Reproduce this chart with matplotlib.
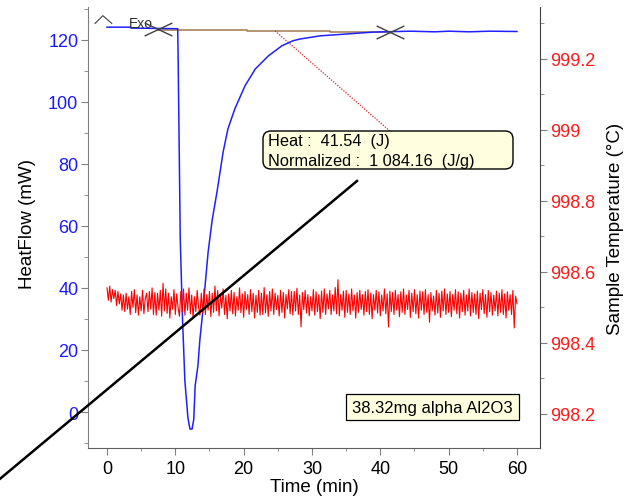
import numpy as np
import matplotlib
matplotlib.use('Agg')
import matplotlib.pyplot as plt
from matplotlib.path import Path
from matplotlib.patches import FancyBboxPatch, Rectangle
from matplotlib.lines import Line2D
from matplotlib.transforms import IdentityTransform
from matplotlib.ticker import MultipleLocator, FuncFormatter

plt.rcParams['font.family'] = ['Liberation Sans', 'DejaVu Sans']

# ---------------- data ----------------
hf_time = [0, 3.4, 3.5, 10.35, 10.42, 10.72, 11.05, 11.4, 11.85, 12.15,
           12.45, 12.7, 12.9, 13.3, 13.6, 14.05, 14.35, 14.8, 15.4, 16.1, 17.0, 17.7,
           18.7, 20.2, 21.7, 23.6, 25.6, 27.2, 28.3, 31.2, 35.1, 38.9, 44.4, 48.0,
           50.0, 53.0, 56.0, 60.0]
heatflow = [124.1, 124.1, 123.8, 123.6, 113.0, 56.0, 30.0, 10.0, -2.0, -5.5,
            -5.5, -2.3, 8.4, 14.8, 23.5, 33.0, 40.6, 51.6, 62.0, 71.0, 83.9, 91.3,
            97.7, 105.2, 110.6, 114.8, 118.1, 119.7, 120.3, 121.3, 121.9, 122.5, 122.8, 122.6,
            122.8, 122.6, 122.8, 122.7]

baseline_time = [7.45, 20.5, 20.5, 32.6, 32.6, 41.4]
baseline_hf = [123.3, 123.3, 123.0, 123.0, 122.7, 122.7]

limit_time = [7.45, 41.4]
limit_hf = [123.4, 122.7]

temp_dt = 0.2
temp_c = [
    998.555, 998.520, 998.560, 998.515, 998.550, 998.525, 998.548, 998.505, 998.545, 998.510, 998.538, 998.492,
    998.535, 998.488, 998.540, 998.495, 998.530, 998.480, 998.545, 998.500, 998.550, 998.485, 998.535, 998.478,
    998.530, 998.490, 998.548, 998.482, 998.525, 998.540, 998.488, 998.545, 998.495, 998.555, 998.480, 998.542,
    998.478, 998.540, 998.492, 998.548, 998.475, 998.568, 998.490, 998.552, 998.483, 998.540, 998.470, 998.530,
    998.495, 998.550, 998.480, 998.538, 998.500, 998.475, 998.545, 998.488, 998.552, 998.478, 998.540, 998.492,
    998.555, 998.482, 998.535, 998.470, 998.530, 998.488, 998.548, 998.500, 998.478, 998.540, 998.485, 998.552,
    998.480, 998.536, 998.492, 998.545, 998.474, 998.540, 998.486, 998.560, 998.490, 998.548, 998.476, 998.538,
    998.498, 998.552, 998.480, 998.534, 998.468, 998.538, 998.490, 998.548, 998.482, 998.542, 998.476, 998.530,
    998.492, 998.555, 998.485, 998.538, 998.472, 998.545, 998.494, 998.536, 998.480, 998.550, 998.488, 998.540,
    998.470, 998.534, 998.486, 998.548, 998.478, 998.540, 998.480, 998.556, 998.485, 998.536, 998.475, 998.545,
    998.490, 998.552, 998.480, 998.540, 998.494, 998.534, 998.476, 998.548, 998.486, 998.542, 998.470, 998.536,
    998.496, 998.550, 998.482, 998.545, 998.478, 998.545, 998.490, 998.554, 998.480, 998.535, 998.445, 998.542,
    998.494, 998.548, 998.484, 998.536, 998.476, 998.530, 998.490, 998.550, 998.478, 998.544, 998.488, 998.536,
    998.468, 998.546, 998.486, 998.552, 998.480, 998.538, 998.496, 998.548, 998.480, 998.535, 998.490, 998.556,
    998.482, 998.578, 998.476, 998.536, 998.492, 998.546, 998.472, 998.548, 998.486, 998.538, 998.480, 998.552,
    998.490, 998.535, 998.470, 998.542, 998.486, 998.548, 998.494, 998.536, 998.478, 998.545, 998.488, 998.550,
    998.480, 998.540, 998.468, 998.536, 998.492, 998.548, 998.484, 998.544, 998.476, 998.535, 998.490, 998.552,
    998.482, 998.538, 998.445, 998.546, 998.488, 998.542, 998.480, 998.548, 998.492, 998.536, 998.474, 998.544,
    998.486, 998.552, 998.480, 998.535, 998.494, 998.548, 998.472, 998.540, 998.488, 998.550, 998.482, 998.536,
    998.470, 998.546, 998.492, 998.544, 998.480, 998.550, 998.486, 998.536, 998.458, 998.542, 998.490, 998.532,
    998.478, 998.548, 998.484, 998.540, 998.472, 998.546, 998.490, 998.552, 998.480, 998.538, 998.486, 998.545,
    998.474, 998.536, 998.492, 998.550, 998.482, 998.544, 998.470, 998.540, 998.488, 998.548, 998.478, 998.535,
    998.490, 998.552, 998.476, 998.542, 998.486, 998.538, 998.480, 998.546, 998.468, 998.540, 998.494, 998.550,
    998.482, 998.536, 998.472, 998.548, 998.488, 998.542, 998.478, 998.535, 998.490, 998.546, 998.476, 998.540,
    998.486, 998.550, 998.480, 998.538, 998.470, 998.544, 998.492, 998.536, 998.480, 998.548, 998.442, 998.532,
    998.510,
]
temp_time = np.arange(len(temp_c)) * temp_dt

leader_time = [24.6, 41.4]
leader_hf = [122.9, 90.6]

heat_text = 'Heat :  41.54  (J)'
norm_text = 'Normalized :  1 084.16  (J/g)'
sample_text = '38.32mg alpha Al2O3'

# ---------------- figure ----------------
W, H = 629, 502
fig = plt.figure(figsize=(W / 100, H / 100), dpi=100)
ax = fig.add_axes([88 / W, 1 - 449 / H, (540 - 88) / W, (449 - 8) / H])
ax2 = ax.twinx()

ax.set_xlim(-2.78, 63.37)
ax.set_ylim(-11.6, 130.6)
ax2.set_ylim(998.104, 999.346)

# spines
for a in (ax, ax2):
    a.spines['top'].set_visible(False)
ax.spines['right'].set_visible(False)
ax2.spines['left'].set_visible(False)
ax2.spines['bottom'].set_visible(False)
ax.spines['left'].set_color('#808080')
ax.spines['bottom'].set_color('#606060')
ax2.spines['right'].set_color('#404040')

# ticks
ax.xaxis.set_major_locator(MultipleLocator(10))
ax.xaxis.set_minor_locator(MultipleLocator(5))
ax.yaxis.set_major_locator(MultipleLocator(20))
ax.yaxis.set_minor_locator(MultipleLocator(10))
ax2.yaxis.set_major_locator(MultipleLocator(0.2))
ax2.yaxis.set_minor_locator(MultipleLocator(0.1))
ax2.yaxis.set_major_formatter(FuncFormatter(lambda v, p: f'{round(v, 1):g}'))

ax.tick_params(axis='x', which='major', direction='out', length=5, color='#808080',
               labelsize=13, labelcolor='black', pad=4)
ax.tick_params(axis='x', which='minor', direction='out', length=2.5, color='#808080')
ax.tick_params(axis='y', which='major', direction='out', length=5, color='#808080',
               labelsize=13, labelcolor='#1a1aff', pad=2)
ax.tick_params(axis='y', which='minor', direction='out', length=3, color='#808080')
ax2.tick_params(axis='y', which='major', direction='out', length=5, color='#808080',
                labelsize=13, labelcolor='#ff1a1a', pad=2)
ax2.tick_params(axis='y', which='minor', direction='out', length=3, color='#808080')

ax.set_xlabel('Time (min)', fontsize=13.5)
ax.xaxis.set_label_coords(0.5, -0.068)
ax.set_ylabel('HeatFlow (mW)', fontsize=13.5)
ax.yaxis.set_label_coords(-0.115, 0.51)
ax2.set_ylabel('Sample Temperature (°C)', fontsize=13.5)
ax2.yaxis.set_label_coords(1.148, 0.50)

# ---------------- data marks ----------------
ax2.plot(temp_time, temp_c, color='#ff0000', lw=0.8, zorder=2)
ax.plot(hf_time, heatflow, color='#2020ff', lw=1.1, zorder=3)
ax.plot(baseline_time, baseline_hf, color='#a8845c', lw=1.2, zorder=2)
xmark = Path([(-1, -0.47), (1, 0.47), (-1, 0.47), (1, -0.47)],
             [Path.MOVETO, Path.LINETO, Path.MOVETO, Path.LINETO])
ax.plot(limit_time, limit_hf, ls='none', marker=xmark, markersize=20,
        markeredgecolor='#404040', markerfacecolor='none', markeredgewidth=1, zorder=4)
ax.plot(leader_time, leader_hf, color='#e02020', ls=(0, (1, 1.2)), lw=0.9, zorder=2)

# Exo marker
ax.plot([-1.75, -0.6, 0.7], [125.3, 127.8, 125.3], color='#404040', lw=0.8, clip_on=False)
ax.text(3.2, 124.3, 'Exo', fontsize=10, color='#303030', va='baseline', ha='left')

# ---------------- overlays (pixel coords) ----------------
ax2.set_zorder(ax.get_zorder() + 1)
box = FancyBboxPatch((263, H - 170), 250, 38, boxstyle='round,pad=0,rounding_size=8',
                     transform=IdentityTransform(), fc='#ffffe0', ec='black', lw=1, zorder=10)
fig.add_artist(box)
fig.text(268 / W, 1 - 142 / H, heat_text, va='center', ha='left', fontsize=11.8, zorder=11)
fig.text(268 / W, 1 - 162 / H, norm_text, va='center', ha='left', fontsize=11.8, zorder=11)

fig.add_artist(Line2D([-5, 357], [H - 484, H - 182], transform=IdentityTransform(),
                      color='black', lw=1.8, zorder=12))

rect = Rectangle((346, H - 421), 173, 26, transform=IdentityTransform(),
                 fc='#ffffe0', ec='black', lw=0.9, zorder=10)
fig.add_artist(rect)
fig.text(432.5 / W, 1 - 408 / H, sample_text, va='center', ha='center', fontsize=12, zorder=11)

fig.savefig('out.png', dpi=100, facecolor='white')
